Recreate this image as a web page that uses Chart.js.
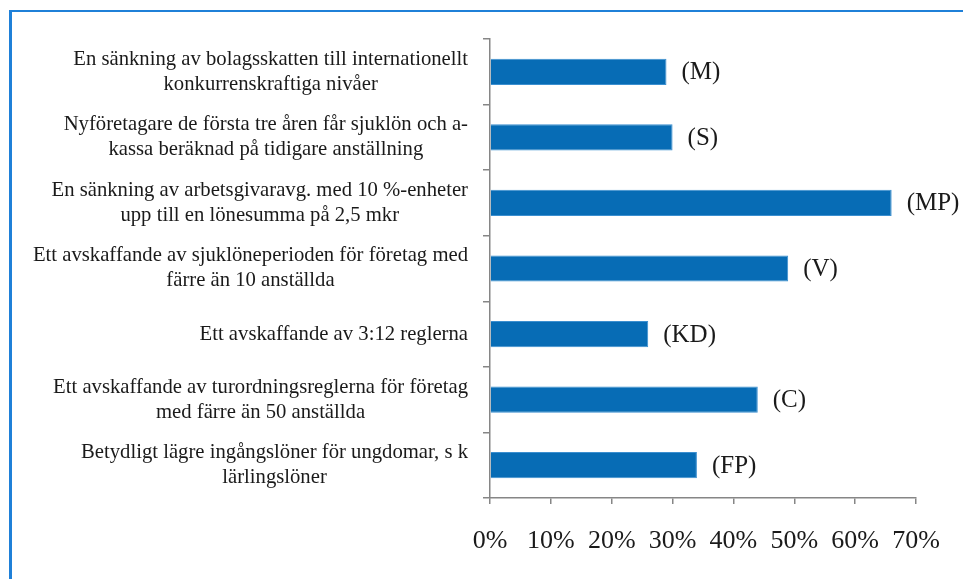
<!DOCTYPE html>
<html>
<head>
<meta charset="utf-8">
<script src="https://cdn.jsdelivr.net/npm/chart.js@4.4.1/dist/chart.umd.min.js"></script>
<style>
  html, body { margin: 0; padding: 0; background: #fff; }
  #wrap { position: relative; width: 963px; height: 579px; overflow: hidden; }
  #frame { position: absolute; left: 9px; top: 10px; width: 1000px; height: 600px;
           border-top: 2px solid #1f80d8; border-left: 3px solid #1f80d8; box-sizing: border-box; }
  #c { position: absolute; left: 0; top: 0; }
</style>
</head>
<body>
<div id="wrap">
  <div id="frame"></div>
  <canvas id="c" width="963" height="579"></canvas>
</div>
<script>
const categories = [
  ["En sänkning av bolagsskatten till internationellt", "konkurrenskraftiga nivåer"],
  ["Nyföretagare de första tre åren får sjuklön och a-", "kassa beräknad på tidigare anställning"],
  ["En sänkning av arbetsgivaravg. med 10 %-enheter", "upp till en lönesumma på 2,5 mkr"],
  ["Ett avskaffande av sjuklöneperioden för företag med", "färre än 10 anställda"],
  ["Ett avskaffande av 3:12 reglerna"],
  ["Ett avskaffande av turordningsreglerna för företag", "med färre än 50 anställda"],
  ["Betydligt lägre ingångslöner för ungdomar, s k", "lärlingslöner"]
];
const parties = ["(M)", "(S)", "(MP)", "(V)", "(KD)", "(C)", "(FP)"];
const values = [29, 30, 66, 49, 26, 44, 34];
const xTicks = [0, 10, 20, 30, 40, 50, 60, 70];

const FONT = '"Liberation Serif", "DejaVu Serif", serif';
const TEXT = '#1a1a1a';
const AXIS = '#868686';

const labelPlugin = {
  id: 'customLabels',
  afterDraw(chart) {
    const ctx = chart.ctx;
    const y = chart.scales.y;
    ctx.save();
    // category labels: right-aligned block, lines centred within
    ctx.font = '20.7px ' + FONT;
    ctx.fillStyle = TEXT;
    ctx.textAlign = 'center';
    ctx.textBaseline = 'middle';
    const rightEdge = y.right - 22;
    const lh = 25;
    categories.forEach((lines, i) => {
      const cy = y.getPixelForValue(i);
      const w = Math.max(...lines.map(l => ctx.measureText(l).width));
      const cx = rightEdge - w / 2;
      lines.forEach((l, j) => {
        ctx.fillText(l, cx, cy + (j - (lines.length - 1) / 2) * lh);
      });
    });
    // party labels after bars
    ctx.font = '25px ' + FONT;
    ctx.textAlign = 'left';
    const meta = chart.getDatasetMeta(0);
    meta.data.forEach((bar, i) => {
      ctx.fillText(parties[i], bar.x + 15, bar.y + 1);
    });
    ctx.restore();
  }
};

new Chart(document.getElementById('c'), {
  type: 'bar',
  data: {
    labels: categories.map(c => c.join(' ')),
    datasets: [{
      data: values,
      backgroundColor: '#076cb5',
      borderColor: '#3b8fd0',
      borderWidth: 1,
      borderSkipped: 'left',
      categoryPercentage: 1,
      barPercentage: 0.4
    }]
  },
  options: {
    responsive: false,
    animation: false,
    indexAxis: 'y',
    layout: { padding: { top: 39, right: 47, left: 0, bottom: 0 } },
    plugins: { legend: { display: false }, tooltip: { enabled: false } },
    scales: {
      x: {
        min: 0, max: 70,
        afterBuildTicks(s) { s.ticks = xTicks.map(v => ({ value: v })); },
        afterFit(s) { s.height = 81; },
        grid: { drawOnChartArea: false, drawTicks: true, tickLength: 6, color: AXIS, lineWidth: 1.5 },
        border: { color: AXIS, width: 1.5 },
        ticks: {
          color: TEXT, padding: 22,
          font: { family: FONT, size: 26 },
          callback: v => v + '%'
        }
      },
      y: {
        afterFit(s) { s.width = 490; },
        grid: { drawOnChartArea: false, drawTicks: true, tickLength: 7, color: AXIS, lineWidth: 1.5, offset: true },
        border: { color: AXIS, width: 1.5 },
        ticks: { display: false }
      }
    }
  },
  plugins: [labelPlugin]
});
</script>
</body>
</html>
